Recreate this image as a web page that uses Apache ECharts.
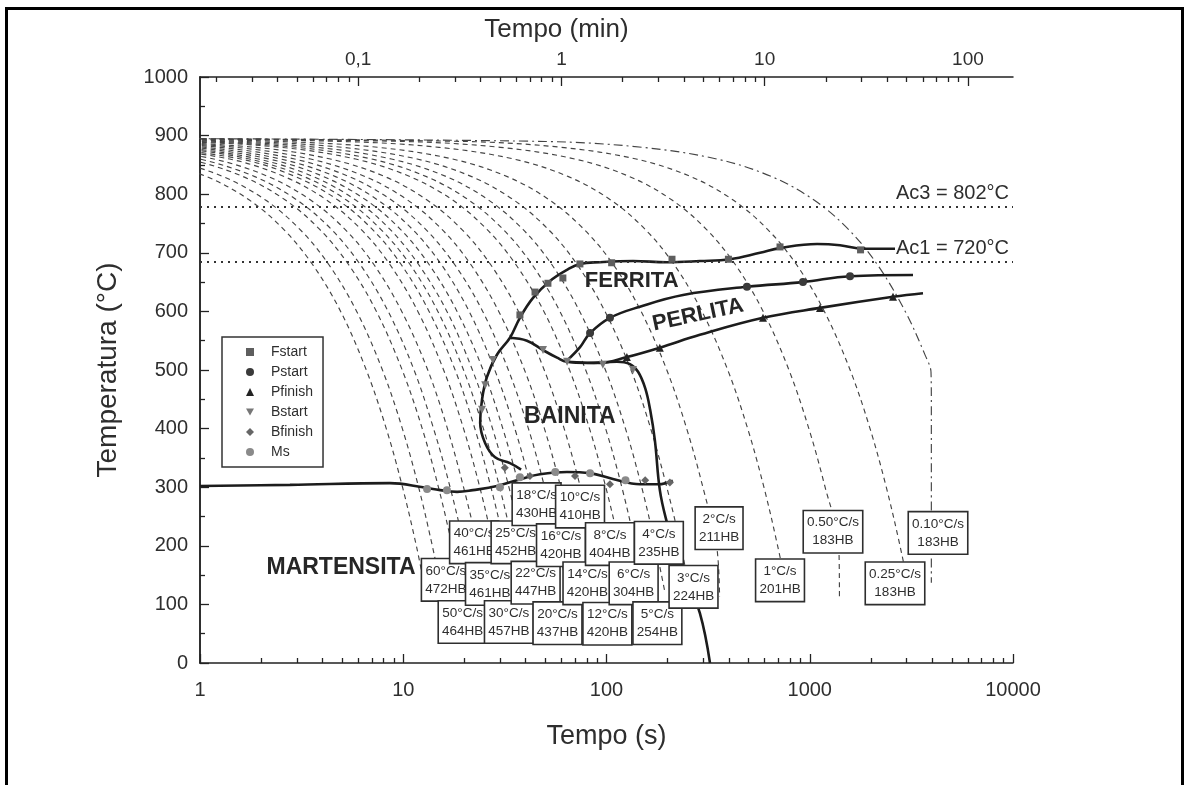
<!DOCTYPE html>
<html><head><meta charset="utf-8">
<script src="https://cdn.jsdelivr.net/npm/echarts@6/dist/echarts.min.js"></script>
<style>
html,body{margin:0;padding:0;background:#fff}
#c{width:1186px;height:785px}
#frame{position:absolute;left:5px;top:7px;width:1173px;height:800px;border:3px solid #000;pointer-events:none}
</style>
</head><body><div id="c"></div><div id="frame"></div>
<script>
// ---------- cooling curves [time (s), temperature (°C)] ----------
const cool60 = [[0.5,865],[0.58,860],[1.08,830],[1.75,790],[2.58,740],[3.58,680],[4.92,600],[6.58,500],[8.25,400],[9.92,300],[11.6,200],[12.9,120]];
const cool50 = [[0.5,870],[0.7,860],[1.3,830],[2.1,790],[3.1,740],[4.3,680],[5.9,600],[7.9,500],[9.9,400],[11.9,300],[13.9,200],[15.5,120]];
const cool40 = [[0.5,875],[0.88,860],[1.63,830],[2.63,790],[3.88,740],[5.38,680],[7.38,600],[9.88,500],[12.4,400],[14.9,300],[17.4,200],[19.4,120]];
const cool35 = [[0.5,878],[1.0,860],[1.86,830],[3.0,790],[4.43,740],[6.14,680],[8.43,600],[11.3,500],[14.1,400],[17.0,300],[19.9,200],[22.1,120]];
const cool30 = [[0.5,880],[1.17,860],[2.17,830],[3.5,790],[5.17,740],[7.17,680],[9.83,600],[13.2,500],[16.5,400],[19.8,300],[23.2,200],[25.8,120]];
const cool25 = [[0.5,882],[1.4,860],[2.6,830],[4.2,790],[6.2,740],[8.6,680],[11.8,600],[15.8,500],[19.8,400],[23.8,300],[27.8,200],[31,120]];
const cool22 = [[0.5,884],[1.59,860],[2.95,830],[4.77,790],[7.05,740],[9.77,680],[13.4,600],[18.0,500],[22.5,400],[27.0,300],[31.6,200],[35.2,120]];
const cool20 = [[0.5,885],[0.75,880],[1.75,860],[3.25,830],[5.25,790],[7.75,740],[10.8,680],[14.8,600],[19.8,500],[24.8,400],[29.8,300],[34.8,200],[38.8,120]];
const cool18 = [[0.5,886],[0.83,880],[1.94,860],[3.61,830],[5.83,790],[8.61,740],[11.9,680],[16.4,600],[21.9,500],[27.5,400],[33.1,300],[38.6,200],[43.1,120]];
const cool16 = [[0.5,887],[0.94,880],[2.19,860],[4.06,830],[6.56,790],[9.69,740],[13.4,680],[18.4,600],[24.7,500],[30.9,400],[37.2,300],[43.4,200],[48.4,120]];
const cool14 = [[0.5,888],[1.07,880],[2.5,860],[4.64,830],[7.5,790],[11.1,740],[15.4,680],[21.1,600],[28.2,500],[35.4,400],[42.5,300],[49.6,200],[55.4,120]];
const cool12 = [[0.5,889],[1.25,880],[2.92,860],[5.42,830],[8.75,790],[12.9,740],[17.9,680],[24.6,600],[32.9,500],[41.3,400],[49.6,300],[57.9,200],[64.6,120]];
const cool10 = [[0.5,890],[1.5,880],[3.5,860],[6.5,830],[10.5,790],[15.5,740],[21.5,680],[29.5,600],[39.5,500],[49.5,400],[59.5,300],[69.5,200],[77.5,120]];
const cool8  = [[0.5,891],[1.88,880],[4.38,860],[8.13,830],[13.1,790],[19.4,740],[26.9,680],[36.9,600],[49.4,500],[61.9,400],[74.4,300],[86.9,200],[96.9,120]];
const cool6  = [[0.5,892],[0.83,890],[2.5,880],[5.83,860],[10.8,830],[17.5,790],[25.8,740],[35.8,680],[49.2,600],[65.8,500],[82.5,400],[99.2,300],[116,200],[129,120]];
const cool5  = [[0.5,893],[1,890],[3,880],[7,860],[13,830],[21,790],[31,740],[43,680],[59,600],[79,500],[99,400],[119,300],[139,200],[155,120]];
const cool4  = [[0.5,893],[1.25,890],[3.75,880],[8.75,860],[16.3,830],[26.3,790],[38.8,740],[53.8,680],[73.8,600],[98.8,500],[124,400],[149,300],[174,200],[194,120]];
const cool3  = [[0.5,894],[1.67,890],[5,880],[11.7,860],[21.7,830],[35,790],[51.7,740],[71.7,680],[98.3,600],[132,500],[165,400],[198,300],[232,200],[258,120]];
const cool2  = [[0.5,895],[2.5,890],[7.5,880],[17.5,860],[32.5,830],[52.5,790],[77.5,740],[108,680],[148,600],[198,500],[248,400],[298,300],[348,200],[360,113]];
const cool1  = [[0.5,895],[5,890],[15,880],[35,860],[65,830],[105,790],[155,740],[215,680],[295,600],[395,500],[495,400],[595,300],[695,200],[775,120]];
const cool050 = [[0.5,895],[10,890],[30,880],[70,860],[130,830],[210,790],[310,740],[430,680],[590,600],[790,500],[990,400],[1190,300],[1390,200],[1400,113]];
const cool025 = [[0.5,895],[20,890],[60,880],[140,860],[260,830],[420,790],[620,740],[860,680],[1180,600],[1580,500],[1980,400],[2380,300],[2780,200],[3100,120]];
const cool010 = [[0.5,895],[50,890],[150,880],[350,860],[650,830],[1050,790],[1550,740],[2150,680],[2950,600],[3700,525],[3950,496],[3965,440],[3965,137]];
const coolingCurves = [cool60,cool50,cool40,cool35,cool30,cool25,cool22,cool20,cool18,cool16,cool14,cool12,cool10,cool8,cool6,cool5,cool4,cool3,cool2,cool1,cool050,cool025,cool010];

// ---------- transformation lines ----------
const ferriteStartLine = [[38,330],[33.5,341],[28.3,351],[25.3,375],[23.9,410],[24.4,449],[25.8,488],[28.9,526],[33.5,555],[37.5,589],[43.5,623],[52.7,652],[63.9,671],[74.1,681],[92.9,684],[135,686],[198,684],[288,686],[405,689],[569,700],[714,708],[1086,715],[1409,713],[1828,707],[2627,707]];
const bainiteLine = [[33.5,555],[40.6,550],[48.7,534],[57.1,521],[63.9,514],[80.2,512],[112.6,514],[130.5,510],[143,497],[155,469],[164,432],[173,380],[183,295],[198.5,239],[222,181],[249,137],[288,85],[323,0]];
const pearliteStartLine = [[63.9,516],[74.1,539],[83,563],[104,589],[146,608],[238,628],[491,642],[926,650],[1578,660],[3221,662]];
const pearliteFinishLine = [[63.9,514],[92.9,512],[126,522],[183,538],[288,560],[589,589],[1123,606],[2568,625],[3607,631]];
const msLine = [[1,302],[2.77,304],[8.6,307],[12.5,300],[15.2,295],[18.4,292],[22,295],[28.9,302],[38.8,315],[47.1,322],[63.9,326],[83,324],[107.6,314],[146,305],[180,305],[212,311]];

// ---------- transformation markers ----------
const fStartPts  = [[37.5,594],[44.5,633],[51.5,648],[61,657],[74,681],[106,683],[210,689],[398,689],[714,710],[1778,705]];
const pStartPts  = [[83,563],[104,589],[491,642],[926,650],[1578,660]];
const pFinishPts = [[126,522],[183,538],[589,589],[1123,606],[2568,625]];
const bStartPts  = [[27.6,517],[25.3,474],[24.4,432],[48.7,534],[64,514],[96,509],[135,500]];
const bFinishPts = [[31.6,333],[42,319],[70,319],[104,305],[155,312],[205,308]];
const msPts      = [[13.1,297],[16.4,295],[29.9,300],[37.5,317],[56,326],[83,324],[124,312]];

// ---------- label boxes ----------
const boxRates    = ['60°C/s','50°C/s','40°C/s','35°C/s','30°C/s','25°C/s','22°C/s','18°C/s','20°C/s','16°C/s','10°C/s','14°C/s','12°C/s','8°C/s','6°C/s','5°C/s','4°C/s','3°C/s','2°C/s','1°C/s','0.50°C/s','0.25°C/s','0.10°C/s'];
const boxHardness = ['472HB','464HB','461HB','461HB','457HB','452HB','447HB','430HB','437HB','420HB','410HB','420HB','420HB','404HB','304HB','254HB','235HB','224HB','211HB','201HB','183HB','183HB','183HB'];
const boxTime     = [16.2,19.6,22.3,26.7,33.1,35.7,44.8,45.3,57.4,59.7,74.1,80.6,101,104,136,178,181,268,358,714,1301,2627,4276];
const boxTemp     = [142,70,206,135,70,206,137,271,68,201,267,136,67,203,136,68,205,130,230,141,224,136,222];

// ---------- region names ----------
const regionNames = ['FERRITA','PERLITA','BAINITA','MARTENSITA'];
const regionTime  = [133,282,66,4.94];
const regionTemp  = [652,594,420,162];
const regionRot   = [0,12,0,0];

// ---------- Ac lines ----------
const acLabels = ['Ac3 = 802°C','Ac1 = 720°C'];
const acLevels = [778,684];

// ---------- ticks ----------
const secMinorTicks = [2,3,4,5,6,7,8,9,20,30,40,50,60,70,80,90,200,300,400,500,600,700,800,900,2000,3000,4000,5000,6000,7000,8000,9000];
const minMajorTicks = [0.1,1,10,100];
const minMinorTicks = [0.02,0.03,0.04,0.05,0.06,0.07,0.08,0.09,0.2,0.3,0.4,0.5,0.6,0.7,0.8,0.9,2,3,4,5,6,7,8,9,20,30,40,50,60,70,80,90];

const L = Math.log10;
const xy = p => [L(p[0]), p[1]];
const FONT = 'Liberation Sans, Arial, sans-serif';
const TXT = '#2e2e2e';
const CLEAR = 'rgba(0,0,0,0)';

const series = [];
coolingCurves.forEach((c, i) => {
  const last = i === coolingCurves.length - 1;
  series.push({
    type: 'line', data: c.map(xy), smooth: 0.35, showSymbol: false, silent: true, z: 2,
    lineStyle: { color: '#444', width: 1.15, type: last ? [9,4,2,4] : [5,4] }
  });
});
const thick = { color: '#1c1c1c', width: 2.6 };
[ferriteStartLine, bainiteLine, pearliteStartLine, pearliteFinishLine].forEach(d => {
  series.push({ type: 'line', data: d.map(xy), smooth: 0.4, showSymbol: false, silent: true, z: 4, lineStyle: thick });
});
series.push({
  type: 'line', data: msLine.map(xy), smooth: 0.4, showSymbol: false, silent: true, z: 4, lineStyle: thick,
  markLine: {
    silent: true, symbol: ['none','none'],
    lineStyle: { color: '#333', width: 1.8, type: [2,5] },
    label: { show: true, position: 'insideEndTop', formatter: '{b}', fontSize: 20, color: TXT, fontFamily: FONT, distance: 4 },
    data: acLevels.map((v, i) => ({ yAxis: v, name: acLabels[i] }))
  }
});
const markerDefs = [
  ['Fstart', fStartPts, 'rect', '#5e5e5e', 7],
  ['Pstart', pStartPts, 'circle', '#3a3a3a', 8],
  ['Pfinish', pFinishPts, 'triangle', '#222', 8],
  ['Bstart', bStartPts, 'path://M0,0 L10,0 L5,9 Z', '#777', 8],
  ['Bfinish', bFinishPts, 'diamond', '#666', 8],
  ['Ms', msPts, 'circle', '#8a8a8a', 8]
];
markerDefs.forEach(m => {
  series.push({ name: m[0], type: 'scatter', data: m[1].map(xy), symbol: m[2], symbolSize: m[4], itemStyle: { color: m[3], opacity: 1 }, z: 5, silent: true });
});
series.push({
  type: 'scatter', silent: true, z: 10, symbolSize: 2, itemStyle: { color: CLEAR, opacity: 1 },
  data: boxRates.map((r, i) => ({ value: [L(boxTime[i]), boxTemp[i]], name: r + '\n' + boxHardness[i] })),
  label: {
    show: true, position: 'inside', formatter: '{b}', fontSize: 13.5, fontFamily: FONT, color: TXT,
    lineHeight: 18, align: 'center', backgroundColor: '#fff', borderColor: '#2e2e2e', borderWidth: 1.6, padding: [3,3,2,3]
  },
  labelLayout: { hideOverlap: false }
});
series.push({
  type: 'scatter', silent: true, z: 8, symbolSize: 2, itemStyle: { color: CLEAR, opacity: 1 },
  data: regionNames.map((n, i) => ({ value: [L(regionTime[i]), regionTemp[i]], name: n, label: { rotate: regionRot[i], fontSize: i >= 2 ? 23 : 22 } })),
  label: { show: true, position: 'inside', formatter: '{b}', fontWeight: 'bold', fontFamily: FONT, color: '#262626' }
});

const axisLine = { show: true, lineStyle: { color: '#222', width: 1.5 } };
const tickStyle = { color: '#222', width: 1.3 };
const xMin = 0, xMax = 4;
const tMin = L(1/60), tMax = L(10000/60);

const option = {
  animation: false,
  backgroundColor: '#fff',
  textStyle: { fontFamily: FONT },
  grid: { left: 200, top: 77, width: 813, height: 586, containLabel: false },
  legend: {
    data: markerDefs.map(m => m[0]), orient: 'vertical', left: 222, top: 337,
    itemWidth: 8, itemHeight: 8, itemGap: 6, padding: [8, 10, 8, 24],
    borderColor: '#333', borderWidth: 1.5, backgroundColor: '#fff', selectedMode: false,
    textStyle: { fontSize: 14, color: TXT, fontFamily: FONT, padding: [0,0,0,12] }
  },
  xAxis: [
    { type: 'value', position: 'bottom', min: xMin, max: xMax, interval: 1,
      name: 'Tempo (s)', nameLocation: 'middle', nameGap: 60,
      nameTextStyle: { fontSize: 27, color: TXT, fontFamily: FONT },
      axisLine, splitLine: { show: false },
      axisTick: { inside: true, length: 9, lineStyle: tickStyle },
      axisLabel: { margin: 17, fontSize: 20, color: TXT, fontFamily: FONT,
        formatter: v => String(Math.round(Math.pow(10, v))) } },
    { type: 'value', position: 'bottom', min: xMin, max: xMax,
      axisLine: { show: false }, splitLine: { show: false }, axisLabel: { show: false },
      axisTick: { inside: true, length: 5, lineStyle: tickStyle, customValues: secMinorTicks.map(L) } },
    { type: 'value', position: 'top', min: tMin, max: tMax,
      name: 'Tempo (min)', nameLocation: 'middle', nameGap: 34,
      nameTextStyle: { fontSize: 26, color: TXT, fontFamily: FONT, padding: [0, 100, 0, 0] },
      axisLine, splitLine: { show: false },
      axisTick: { inside: true, length: 9, lineStyle: tickStyle, customValues: minMajorTicks.map(L) },
      axisLabel: { margin: 8, fontSize: 19, color: TXT, fontFamily: FONT, customValues: minMajorTicks.map(L),
        formatter: v => String(Math.round(Math.pow(10, v) * 10) / 10).replace('.', ',') } },
    { type: 'value', position: 'top', min: tMin, max: tMax,
      axisLine: { show: false }, splitLine: { show: false }, axisLabel: { show: false },
      axisTick: { inside: true, length: 5, lineStyle: tickStyle, customValues: minMinorTicks.map(L) } }
  ],
  yAxis: [
    { type: 'value', position: 'left', min: 0, max: 1000, interval: 100,
      name: 'Temperatura (°C)', nameLocation: 'middle', nameGap: 78, nameRotate: 90,
      nameTextStyle: { fontSize: 28, color: TXT, fontFamily: FONT },
      axisLine, splitLine: { show: false },
      axisTick: { inside: true, length: 9, lineStyle: tickStyle },
      minorTick: { show: true, splitNumber: 2, length: 5, lineStyle: tickStyle },
      axisLabel: { margin: 12, fontSize: 20, color: TXT, fontFamily: FONT, formatter: v => String(v) } },
    { type: 'value', position: 'right', min: 0, max: 1000,
      axisLine, axisTick: { show: false }, axisLabel: { show: false }, splitLine: { show: false } }
  ],
  series
};
echarts.init(document.getElementById('c'), null, { renderer: 'canvas' }).setOption(option);
</script></body></html>
